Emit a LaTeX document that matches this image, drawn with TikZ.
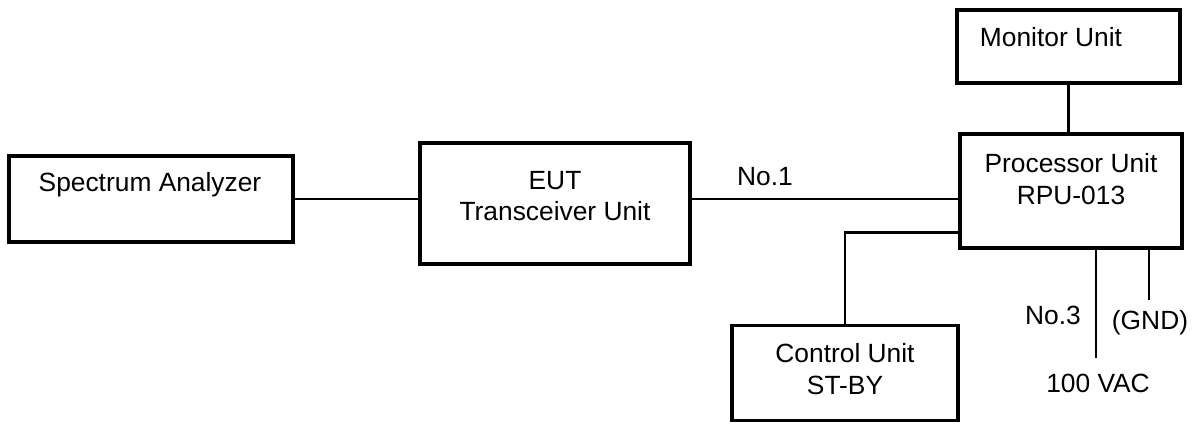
\documentclass[tikz,border=0pt]{standalone}
\usepackage{fontspec}
\setmainfont{Liberation Sans}
\tikzset{
  unit/.style={draw, line width=1.8pt, rectangle, inner sep=0pt},
  txt/.style={align=center, inner sep=0pt, font=\fontsize{15}{18}\selectfont},
  wire/.style={line width=1.4pt}
}
\begin{document}
\begin{tikzpicture}[x=0.02cm, y=-0.02cm]
    \useasboundingbox (0,0) rectangle (1199,424);
    % Units
    \node[unit, minimum width=5.68cm, minimum height=1.72cm] (sa) at (151,199) {};
    \node[unit, minimum width=5.4cm, minimum height=2.42cm] (eut) at (555,203.5) {};
    \node[unit, minimum width=4.44cm, minimum height=2.28cm] (proc) at (1071,191) {};
    \node[unit, minimum width=4.46cm, minimum height=1.46cm] (mon) at (1068.5,46.5) {};
    \node[unit, minimum width=4.52cm, minimum height=1.9cm] (ctrl) at (845,373) {};
    % Texts
    \node[txt] (sa-txt) at (150,185) {Spectrum Analyzer};
    \node[txt] (eut-txt) at (555,196) {EUT\\Transceiver Unit};
    \node[txt] (proc-txt) at (1071,179) {Processor Unit\\RPU-013};
    \node[txt] (mon-txt) at (1051,37) {Monitor Unit};
    \node[txt] (ctrl-txt) at (845,369) {Control Unit\\ST-BY};
    % Cables
    \coordinate (acend) at (1096,358);
    \coordinate (gndend) at (1149,300);
    \draw[wire] (sa.east) -- (sa.east -| eut.west);
    \draw[wire] (eut.east |- sa.east) -- (proc.west |- sa.east);
    \draw[wire] ([yshift=0.34cm]proc.south west) -| (ctrl.north);
    \draw[wire] (mon.south) -- (mon.south |- proc.north);
    \draw[wire] (proc.south -| acend) -- (acend);
    \draw[wire] (proc.south -| gndend) -- (gndend);
    % Labels
    \node[txt] (no1) at (765,177) {No.1};
    \node[txt] (no3) at (1053,315) {No.3};
    \node[txt] (gnd) at (1150,323) {(GND)};
    \node[txt] (vac) at (1098,383) {100 VAC};
\end{tikzpicture}
\end{document}
